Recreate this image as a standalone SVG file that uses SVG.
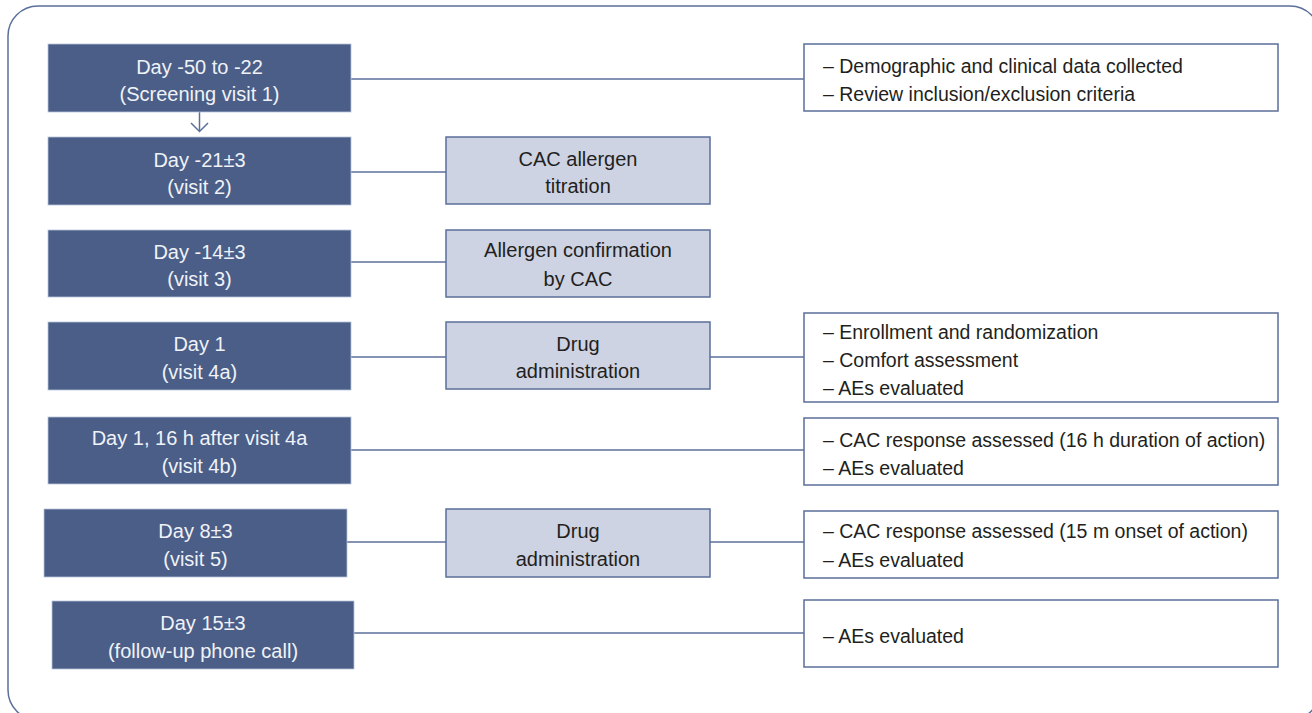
<svg xmlns="http://www.w3.org/2000/svg" width="1312" height="713" viewBox="0 0 1312 713">
<style>
.frame{fill:none;stroke:#5b6f9b;stroke-width:1.5}
.visit rect{fill:#4a5e88;stroke:#b7c3dc;stroke-width:0.8}
.visit text{fill:#f0f2f7}
.act rect{fill:#cdd3e3;stroke:#5b6f9b;stroke-width:1.5}
.info rect{fill:#ffffff;stroke:#5b6f9b;stroke-width:1.5}
text{font-family:'Liberation Sans',Arial,sans-serif;font-size:20px;fill:#231f20}
.info text{font-size:19.5px}
.c{text-anchor:middle}
.conn line,.conn path{fill:none;stroke:#5b6f9b;stroke-width:1.5}
</style>
<rect class="frame" x="8" y="6" width="1312" height="714" rx="30"/>
<g class="conn">
<line x1="351" y1="79" x2="804" y2="79"/>
<line x1="199.5" y1="112" x2="199.5" y2="131"/>
<path d="M191 123 L199.5 131.5 L208 123"/>
<line x1="351" y1="172" x2="446" y2="172"/>
<line x1="351" y1="262" x2="446" y2="262"/>
<line x1="351" y1="357" x2="446" y2="357"/>
<line x1="710" y1="357" x2="804" y2="357"/>
<line x1="351" y1="450" x2="804" y2="450"/>
<line x1="347" y1="542" x2="446" y2="542"/>
<line x1="710" y1="542" x2="804" y2="542"/>
<line x1="354" y1="633" x2="804" y2="633"/>
</g>
<g id="v1" class="visit"><rect x="48" y="44" width="303" height="68"/><text class="c" x="199.5" y="74">Day -50 to -22</text><text class="c" x="199.5" y="101">(Screening visit 1)</text></g>
<g id="v2" class="visit"><rect x="48" y="137" width="303" height="68"/><text class="c" x="199.5" y="167">Day -21±3</text><text class="c" x="199.5" y="194">(visit 2)</text></g>
<g id="v3" class="visit"><rect x="48" y="230" width="303" height="67"/><text class="c" x="199.5" y="259">Day -14±3</text><text class="c" x="199.5" y="286">(visit 3)</text></g>
<g id="v4a" class="visit"><rect x="48" y="322" width="303" height="68"/><text class="c" x="199.5" y="351">Day 1</text><text class="c" x="199.5" y="379">(visit 4a)</text></g>
<g id="v4b" class="visit"><rect x="48" y="417" width="303" height="67"/><text class="c" x="199.5" y="445">Day 1, 16 h after visit 4a</text><text class="c" x="199.5" y="473">(visit 4b)</text></g>
<g id="v5" class="visit"><rect x="44" y="509" width="303" height="68"/><text class="c" x="195.5" y="538">Day 8±3</text><text class="c" x="195.5" y="566">(visit 5)</text></g>
<g id="v6" class="visit"><rect x="52" y="601" width="302" height="68"/><text class="c" x="203" y="630">Day 15±3</text><text class="c" x="203" y="658">(follow-up phone call)</text></g>
<g id="a1" class="act"><rect x="446" y="137" width="264" height="67"/><text class="c" x="578" y="166">CAC allergen</text><text class="c" x="578" y="193">titration</text></g>
<g id="a2" class="act"><rect x="446" y="230" width="264" height="67"/><text class="c" x="578" y="257">Allergen confirmation</text><text class="c" x="578" y="286">by CAC</text></g>
<g id="a3" class="act"><rect x="446" y="322" width="264" height="67"/><text class="c" x="578" y="351">Drug</text><text class="c" x="578" y="378">administration</text></g>
<g id="a4" class="act"><rect x="446" y="509" width="264" height="68"/><text class="c" x="578" y="538">Drug</text><text class="c" x="578" y="566">administration</text></g>
<g id="i1" class="info"><rect x="804" y="44" width="474" height="67"/><text x="823" y="73">– Demographic and clinical data collected</text><text x="823" y="101">– Review inclusion/exclusion criteria</text></g>
<g id="i2" class="info"><rect x="804" y="313" width="474" height="89"/><text x="823" y="339">– Enrollment and randomization</text><text x="823" y="367">– Comfort assessment</text><text x="823" y="395">– AEs evaluated</text></g>
<g id="i3" class="info"><rect x="804" y="418" width="474" height="67"/><text x="823" y="447">– CAC response assessed (16 h duration of action)</text><text x="823" y="475">– AEs evaluated</text></g>
<g id="i4" class="info"><rect x="804" y="511" width="474" height="67"/><text x="823" y="538">– CAC response assessed (15 m onset of action)</text><text x="823" y="567">– AEs evaluated</text></g>
<g id="i5" class="info"><rect x="804" y="600" width="474" height="67"/><text x="823" y="643">– AEs evaluated</text></g>
</svg>
